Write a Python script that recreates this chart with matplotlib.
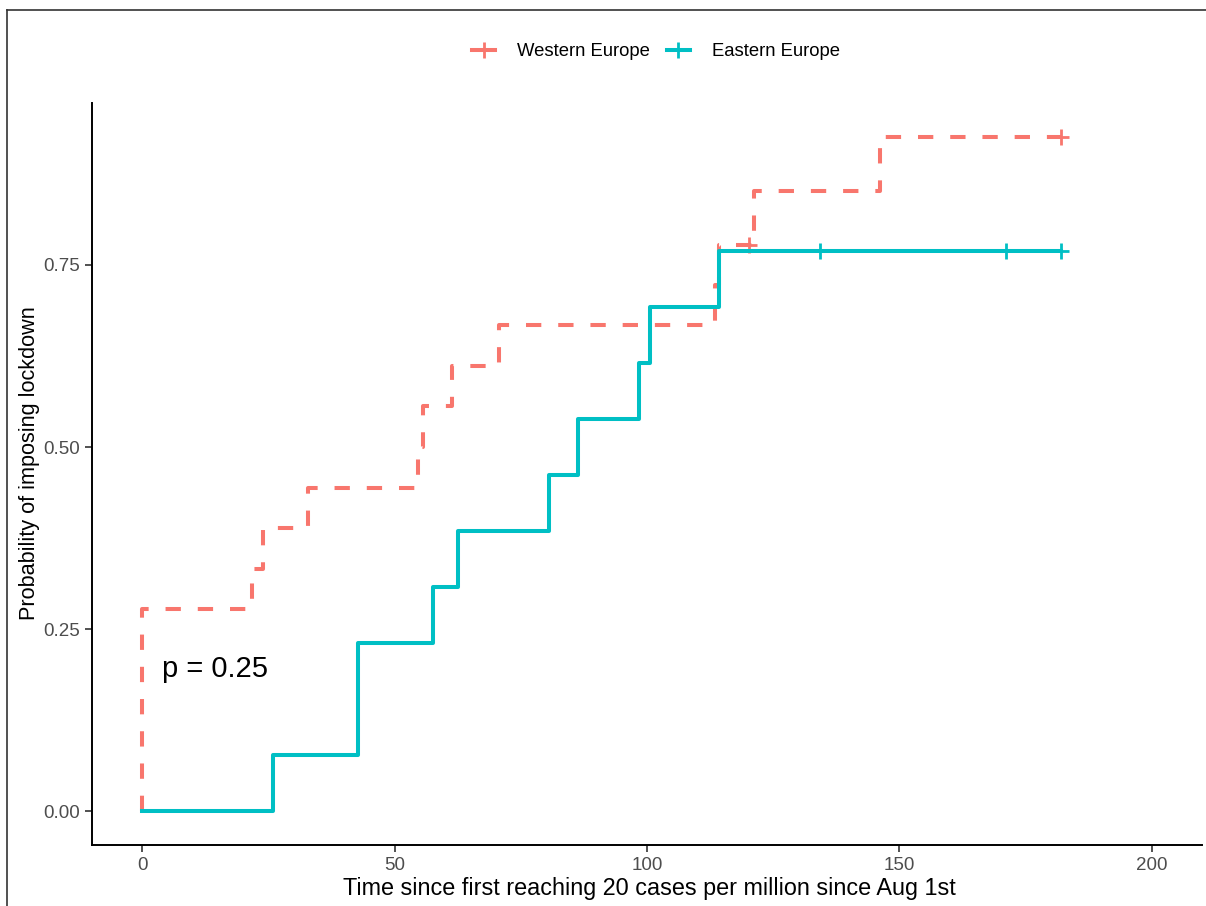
import matplotlib.pyplot as plt
from matplotlib.lines import Line2D
import numpy as np

plt.rcParams['font.family'] = ['Liberation Sans', 'DejaVu Sans']

# cumulative probability of lockdown
west_t = [0, 21.8, 23.8, 32.8, 54.7, 55.6, 61.4, 70.6, 113.4, 114.3, 121.3, 146.1]
west_p = [0.278, 0.333, 0.389, 0.444, 0.500, 0.556, 0.611, 0.667, 0.722, 0.778, 0.852, 0.926]
west_censor = [120.3, 182.1]

east_t = [25.8, 42.8, 57.5, 62.5, 80.5, 86.4, 98.5, 100.5, 114.3]
east_p = [0.077, 0.231, 0.308, 0.385, 0.462, 0.538, 0.615, 0.692, 0.769]
east_censor = [134.2, 171.1, 182.1]

labels = ['Western Europe', 'Eastern Europe']
colors = ['#F8766D', '#00BFC4']
p_text = 'p = 0.25'
x_ticks = [0, 50, 100, 150, 200]
y_ticks = [0.00, 0.25, 0.50, 0.75]


def step_xy(t, p, t_end):
    x = [0] + list(t) + [t_end]
    y = [0] + list(p) + [p[-1]]
    return np.array(x), np.array(y)


def value_at(t, p, when):
    out = []
    for w in when:
        v = 0
        for ti, pi in zip(t, p):
            if ti <= w:
                v = pi
        out.append(v)
    return out


fig = plt.figure(figsize=(12.06, 9.06), dpi=100)
ax = fig.add_axes([92 / 1206, 1 - 845 / 906, (1202 - 92) / 1206, (845 - 103) / 906])

lw = 2.9
xw, yw = step_xy(west_t, west_p, max(west_censor))
ax.plot(xw, yw, drawstyle='steps-post', color=colors[0], lw=lw,
        dashes=(3.8, 4.2), solid_capstyle='butt', dash_capstyle='butt', zorder=2)
ax.plot(west_censor, value_at(west_t, west_p, west_censor), ls='none', marker='+',
        ms=11, mew=2, color=colors[0], zorder=3)

xe, ye = step_xy(east_t, east_p, max(east_censor))
ax.plot(xe, ye, drawstyle='steps-post', color=colors[1], lw=lw, zorder=4)
ax.plot(east_censor, value_at(east_t, east_p, east_censor), ls='none', marker='+',
        ms=11, mew=2, color=colors[1], zorder=5)

ax.text(3.8, 0.195, p_text, fontsize=21, color='black', va='center', ha='left')

ax.set_xlim(-10, 210)
ax.set_ylim(-0.0463, 0.9723)
ax.set_xticks(x_ticks)
ax.set_xticklabels([str(v) for v in x_ticks])
ax.set_yticks(y_ticks)
ax.set_yticklabels(['%.2f' % v for v in y_ticks])
for s in ['top', 'right']:
    ax.spines[s].set_visible(False)
for s in ['left', 'bottom']:
    ax.spines[s].set_linewidth(1.4)
    ax.spines[s].set_color('black')
ax.tick_params(axis='both', length=5, width=1.2, color='#333333',
               labelsize=13.5, labelcolor='#4D4D4D', pad=4)

fig.text(649 / 1206, 1 - 889 / 906, 'Time since first reaching 20 cases per million since Aug 1st',
         ha='center', va='center', fontsize=16.8)
fig.text(30 / 1206, 1 - 463 / 906, 'Probability of imposing lockdown',
         ha='center', va='center', rotation=90, fontsize=15.6)

handles = [Line2D([], [], color=c, lw=lw, marker='+', ms=11, mew=2) for c in colors]
fig.legend(handles, labels, loc='center', bbox_to_anchor=(656 / 1206, 1 - 52 / 906), ncol=2,
           frameon=False, fontsize=13.3, handlelength=1.25, handletextpad=1.2,
           columnspacing=0.9)

# outer frame, only left and top edges show in the picture
fig.add_artist(Line2D([7 / 1206, 7 / 1206], [0, 1 - 10 / 906], color='#333333', lw=1.2,
                      transform=fig.transFigure))
fig.add_artist(Line2D([7 / 1206, 1], [1 - 10 / 906, 1 - 10 / 906], color='#333333', lw=1.2,
                      transform=fig.transFigure))

fig.savefig('out.png', dpi=100)
